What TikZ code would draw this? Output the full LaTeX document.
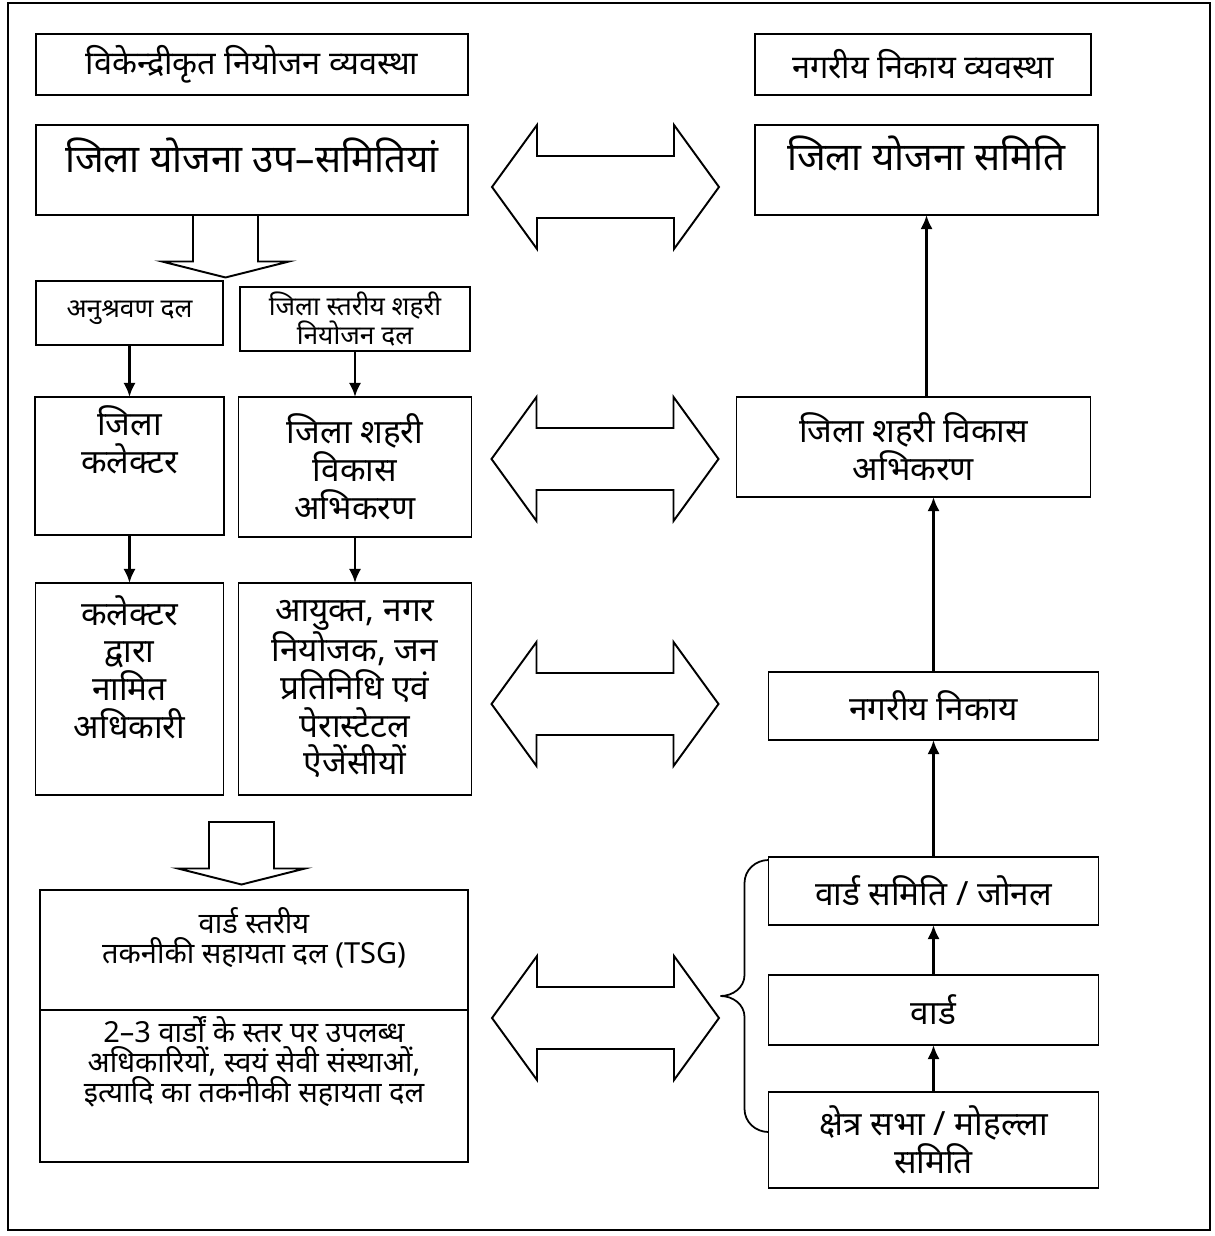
\documentclass[tikz,border=0pt]{standalone}
\usepackage{fontspec}
\setmainfont[Script=Devanagari]{Noto Sans}
\usepackage{tikz}
\usetikzlibrary{positioning}
\usetikzlibrary{calc}
\usetikzlibrary{arrows.meta}
\newcommand{\titletext}{\fontsize{18.5}{22}\selectfont}
\newcommand{\bigtext}{\fontsize{22}{26}\selectfont}
\newcommand{\midtext}{\fontsize{19}{21.5}\selectfont}
\newcommand{\smalltext}{\fontsize{15}{16}\selectfont}
\newcommand{\tsgtext}{\fontsize{16.5}{17}\selectfont}
\tikzstyle{box} = [draw, rectangle, line width=1pt, align=center, inner sep=2pt, outer sep=0pt]
\tikzstyle{flow} = [-{Latex[length=8pt, width=7pt]}, line width=1.6pt]
\tikzstyle{hollow} = [line width=1.1pt, line join=miter]
\tikzstyle{frame} = [line width=1.4pt]
\tikzstyle{bracket} = [line width=1pt]
\tikzset{
	twoway/.pic={
		% both heads and the shaft in one outline
		\draw[hollow] (-2.27,0) -- (-1.37,1.24) -- (-1.37,0.62) -- (1.37,0.62) -- (1.37,1.24) -- (2.27,0)
			-- (1.37,-1.24) -- (1.37,-0.62) -- (-1.37,-0.62) -- (-1.37,-1.24) -- cycle;
	},
	downway/.pic={
		% stem hangs from the origin, flat head below
		\draw[hollow] (-0.65,0) -- (-0.65,-0.93) -- (-1.27,-0.93) -- (0,-1.25) -- (1.27,-0.93)
			-- (0.65,-0.93) -- (0.65,0) -- cycle;
	}
}

\begin{document}
\begin{tikzpicture}
	\useasboundingbox (0,0) rectangle (24.28,-24.72);
	\draw[frame] (0.16,-0.06) rectangle (24.2,-24.6);

	%
	% Left column (decentralised planning)

	% Boxes
	\node[box, anchor=north west, minimum width=8.64cm, minimum height=1.22cm, font=\titletext] (ltitle) at (0.72,-0.68) {विकेन्द्रीकृत नियोजन व्यवस्था};
	\node[box, below=0.6cm of ltitle, minimum width=8.64cm, minimum height=1.8cm, font=\bigtext] (lplan) {जिला योजना उप–समितियां\\[-0.32cm]};
	\node[box, below right=1.32cm and 0cm of lplan.south west, minimum width=3.74cm, minimum height=1.28cm, font=\smalltext] (monitor) {अनुश्रवण दल};
	\node[box, below right=1.44cm and 4.08cm of lplan.south west, minimum width=4.6cm, minimum height=1.28cm, font=\smalltext] (ugroup) {जिला स्तरीय शहरी\\नियोजन दल};
	\node[box, below=1.04cm of monitor, minimum width=3.78cm, minimum height=2.76cm, font=\midtext] (collector) {जिला\\कलेक्टर\\[0.31cm]};
	\node[box, below=0.92cm of ugroup, minimum width=4.66cm, minimum height=2.8cm, font=\midtext] (lurban) {जिला शहरी\\विकास\\अभिकरण};
	\node[box, below=0.96cm of collector, minimum width=3.76cm, minimum height=4.24cm, font=\midtext\bfseries] (officer) {कलेक्टर\\द्वारा\\नामित\\अधिकारी\\[0.13cm]};
	\node[box, below=0.92cm of lurban, minimum width=4.66cm, minimum height=4.24cm, font=\midtext] (agencies) {आयुक्त, नगर\\नियोजक, जन\\प्रतिनिधि एवं\\पेरास्टेटल\\ऐजेंसीयों};
	\node[box, below right=1.9cm and 0.09cm of officer.south west, minimum width=8.56cm, minimum height=2.4cm, font=\tsgtext] (tsgtop) {वार्ड स्तरीय\\तकनीकी सहायता दल (TSG)\\};
	\node[box, below=0cm of tsgtop, minimum width=8.56cm, minimum height=3.04cm, font=\tsgtext] (tsgbot) {2–3 वार्डों के स्तर पर उपलब्ध\\अधिकारियों, स्वयं सेवी संस्थाओं,\\इत्यादि का तकनीकी सहायता दल\\[0.46cm]};

	% Arrows
	\pic [left=0.53cm of lplan.south] {downway};
	\draw[flow] (monitor.south) -- (monitor.south |- collector.north);
	\draw[flow] (ugroup.south) -- (ugroup.south |- lurban.north);
	\draw[flow] (collector.south) -- (collector.south |- officer.north);
	\draw[flow] (lurban.south) -- (lurban.south |- agencies.north);
	\pic [above left=1.36cm and 0.25cm of tsgtop.north] {downway};

	%
	% Right column (urban local bodies)

	% Boxes
	\node[box, right=5.74cm of ltitle, minimum width=6.72cm, minimum height=1.22cm, font=\titletext] (rtitle) {नगरीय निकाय व्यवस्था};
	\node[box, below right=0.6cm and 0cm of rtitle.south west, minimum width=6.86cm, minimum height=1.8cm, font=\bigtext] (rplan) {जिला योजना समिति\\[-0.24cm]};
	\node[box, right=5.3cm of lurban.north east, anchor=north west, minimum width=7.08cm, minimum height=2.0cm, font=\midtext] (rurban) {जिला शहरी विकास\\अभिकरण};
	\node[box, below right=3.5cm and 0.64cm of rurban.south west, minimum width=6.6cm, minimum height=1.36cm, font=\midtext\bfseries] (rbody) {नगरीय निकाय};
	\node[box, below=2.34cm of rbody, minimum width=6.6cm, minimum height=1.36cm, font=\midtext\bfseries] (rcommittee) {वार्ड समिति / जोनल};
	\node[box, below=1.0cm of rcommittee, minimum width=6.6cm, minimum height=1.4cm, font=\midtext\bfseries] (rward) {वार्ड};
	\node[box, below=0.94cm of rward, minimum width=6.6cm, minimum height=1.92cm, font=\midtext\bfseries] (rsabha) {क्षेत्र सभा / मोहल्ला\\समिति};

	% Arrows
	\draw[flow] (rurban.north -| rplan.south) -- (rplan.south);
	\draw[flow] (rbody.north) -- (rbody.north |- rurban.south);
	\draw[flow] (rcommittee.north) -- (rbody.south);
	\draw[flow] (rward.north) -- (rcommittee.south);
	\draw[flow] (rsabha.north) -- (rward.south);

	% Brace round the ward level
	\coordinate (btop) at ([yshift=-0.06cm]rcommittee.north west);
	\coordinate (bbot) at ([yshift=0.16cm]rsabha.west);
	\coordinate (bmid) at ($(btop)!0.5!(bbot)+(-0.96,0)$);
	\draw[bracket] (btop) to[out=180, in=90] ($(btop)+(-0.48,-0.46)$) -- ($(bmid)+(0.48,0.42)$) to[out=-90, in=0] (bmid)
		to[out=0, in=90] ($(bmid)+(0.48,-0.42)$) -- ($(bbot)+(-0.48,0.46)$) to[out=-90, in=180] (bbot);

	%
	% Two-way links between the columns
	\pic [below right=1.24cm and 2.75cm of lplan.north east] {twoway};
	\pic [below right=1.24cm and 2.67cm of lurban.north east] {twoway};
	\pic [below right=2.42cm and 2.67cm of agencies.north east] {twoway};
	\pic [below right=0.16cm and 2.75cm of tsgbot.north east] {twoway};

\end{tikzpicture}
\end{document}
